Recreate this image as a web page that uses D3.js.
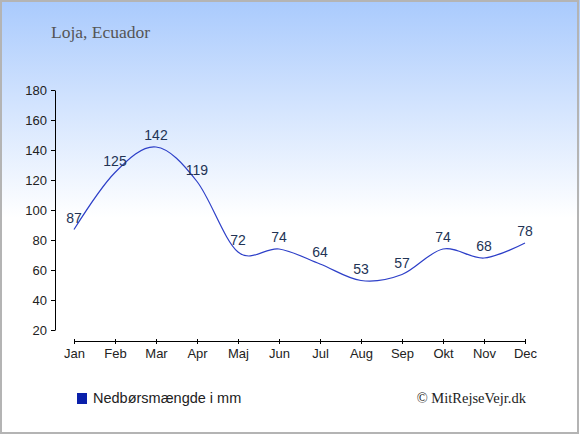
<!DOCTYPE html>
<html><head><meta charset="utf-8">
<script src="https://cdn.jsdelivr.net/npm/d3@7"></script>
<style>
html,body{margin:0;padding:0;background:#fff;}
svg{display:block;}
</style></head>
<body>
<svg id="chart" width="580" height="435"></svg>
<script>
const months = ["Jan","Feb","Mar","Apr","Maj","Jun","Jul","Aug","Sep","Okt","Nov","Dec"];
const precipitation = [87,125,142,119,72,74,64,53,57,74,68,78];
const yTicks = [20,40,60,80,100,120,140,160,180];
const title = "Loja, Ecuador";
const legendLabel = "Nedbørsmængde i mm";
const credit = "© MitRejseVejr.dk";

const svg = d3.select("#chart");
const defs = svg.append("defs");
const grad = defs.append("linearGradient").attr("id","bg").attr("x1",0).attr("y1",0).attr("x2",0).attr("y2",1);
grad.append("stop").attr("offset","0").attr("stop-color","#a9cafd");
grad.append("stop").attr("offset","0.5").attr("stop-color","#ffffff");
grad.append("stop").attr("offset","1").attr("stop-color","#ffffff");

svg.append("rect").attr("x",0).attr("y",0).attr("width",580).attr("height",435).attr("fill","url(#bg)");
svg.append("rect").attr("x",1).attr("y",1).attr("width",577).attr("height",432)
  .attr("fill","none").attr("stroke","#b4b4b4").attr("stroke-width",2);

const x = d3.scalePoint().domain(months).range([74,525]);
const y = d3.scaleLinear().domain([20,180]).range([330,90]);

svg.append("text").attr("x",51).attr("y",38).text(title)
  .attr("font-family","'Liberation Serif', Georgia, serif").attr("font-size",17.5).attr("fill","#555");

// y axis
const ya = svg.append("g").attr("transform","translate(55,0)")
  .call(d3.axisLeft(y).tickValues(yTicks).tickSize(4).tickPadding(4).tickSizeOuter(0));
ya.select(".domain").attr("stroke","#000");
ya.selectAll(".tick line").attr("stroke","#000");
ya.selectAll("text").attr("font-family","'Liberation Sans', Arial, sans-serif").attr("font-size",13).attr("fill","#222");

// x axis
const xa = svg.append("g").attr("transform","translate(0,341)")
  .call(d3.axisBottom(x).tickSize(3).tickPadding(5).tickSizeOuter(0));
xa.select(".domain").attr("stroke","#000");
xa.selectAll(".tick line").attr("stroke","#000").attr("y1",-2).attr("y2",3);
xa.selectAll("text").attr("font-family","'Liberation Sans', Arial, sans-serif").attr("font-size",13).attr("fill","#222");

const data = months.map((m,i)=>({m, v:precipitation[i]}));
const line = d3.line().x(d=>x(d.m)).y(d=>y(d.v)).curve(d3.curveCardinal.tension(0));
svg.append("path").datum(data).attr("d",line).attr("fill","none").attr("stroke","#2d3fc8").attr("stroke-width",1.2);

svg.append("g").selectAll("text").data(data).join("text")
  .attr("x",d=>x(d.m)).attr("y",d=>y(d.v)-7).attr("text-anchor","middle")
  .attr("font-family","'Liberation Sans', Arial, sans-serif").attr("font-size",14).attr("fill","#223355")
  .text(d=>d.v);

// legend
svg.append("rect").attr("x",77).attr("y",393).attr("width",10).attr("height",11).attr("fill","#0a20aa");
svg.append("text").attr("x",93).attr("y",403).text(legendLabel)
  .attr("font-family","'Liberation Sans', Arial, sans-serif").attr("font-size",14.5).attr("fill","#222");
svg.append("text").attr("x",526).attr("y",403).attr("text-anchor","end").text(credit)
  .attr("font-family","'Liberation Serif', 'Times New Roman', serif").attr("font-size",14.5).attr("fill","#222");
</script>
</body></html>
